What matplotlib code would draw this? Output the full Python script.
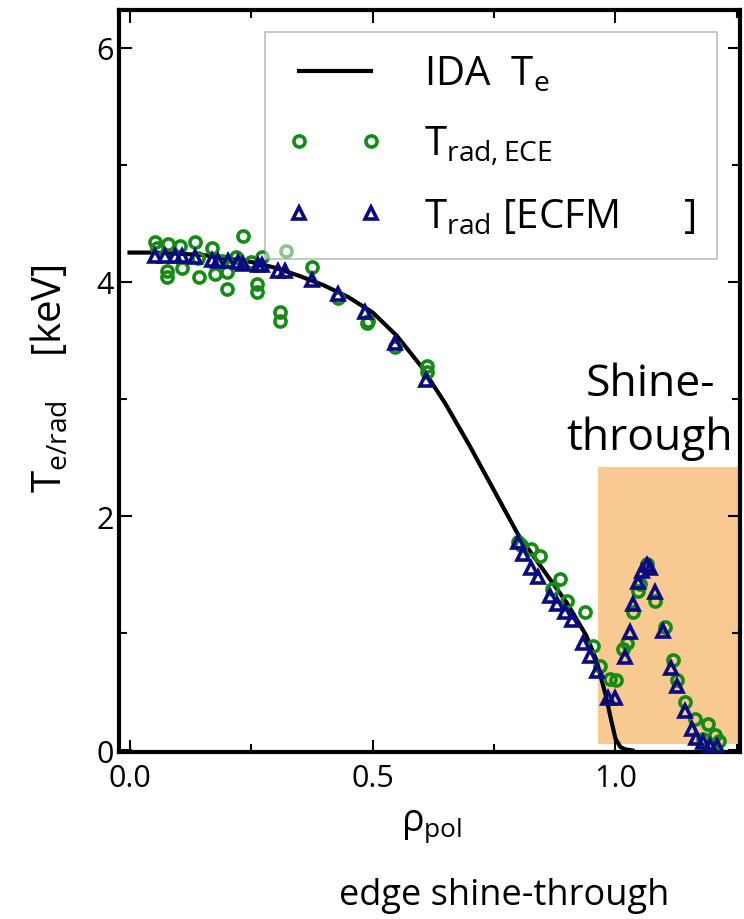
import matplotlib
matplotlib.use("Agg")
import matplotlib.pyplot as plt
from matplotlib.patches import Rectangle

plt.rcParams['font.family'] = ['Open Sans', 'DejaVu Sans']
plt.rcParams['mathtext.fontset'] = 'custom'
plt.rcParams['mathtext.rm'] = 'Open Sans'
plt.rcParams['mathtext.it'] = 'Open Sans:italic'
plt.rcParams['mathtext.bf'] = 'Open Sans:bold'
plt.rcParams['mathtext.default'] = 'regular'

# IDA electron temperature profile
rho_ida = [0.0, 0.05, 0.1, 0.15, 0.2, 0.25, 0.3, 0.35, 0.4, 0.45, 0.5, 0.55,
           0.6, 0.65, 0.7, 0.75, 0.8, 0.85, 0.9, 0.94, 0.96, 0.98, 0.99, 1.0,
           1.01, 1.02, 1.035]
te_ida = [4.25, 4.25, 4.24, 4.23, 4.20, 4.17, 4.12, 4.05, 3.97, 3.87, 3.74, 3.54,
          3.28, 2.96, 2.60, 2.22, 1.84, 1.55, 1.26, 0.98, 0.78, 0.47, 0.28, 0.10,
          0.03, 0.01, 0.0]

# measured ECE radiation temperature
rho_ece = [0.053, 0.056, 0.080, 0.104, 0.135, 0.169, 0.234, 0.077, 0.077, 0.107,
           0.142, 0.176, 0.200, 0.200, 0.220, 0.262, 0.262, 0.272, 0.310, 0.310,
           0.323, 0.140, 0.190, 0.250, 0.375, 0.430, 0.488, 0.490, 0.546, 0.612,
           0.612,
           0.800, 0.805, 0.827, 0.845, 0.886, 0.869, 0.900, 0.937, 0.954, 0.968,
           0.989, 1.002, 1.016, 1.023, 1.037, 1.047, 1.050, 1.064, 1.081, 1.102,
           1.119, 1.126, 1.143, 1.164, 1.180, 1.191, 1.200, 1.205, 1.212]
trad_ece = [4.34, 4.29, 4.32, 4.31, 4.34, 4.29, 4.39, 4.09, 4.04, 4.12,
            4.04, 4.07, 4.08, 3.94, 4.21, 3.98, 3.91, 4.21, 3.74, 3.67,
            4.26, 4.20, 4.18, 4.17, 4.13, 3.86, 3.65, 3.67, 3.44, 3.28,
            3.23,
            1.78, 1.75, 1.72, 1.66, 1.46, 1.38, 1.28, 1.18, 0.89, 0.72,
            0.61, 0.60, 0.87, 0.92, 1.18, 1.36, 1.42, 1.59, 1.28, 1.05,
            0.77, 0.60, 0.41, 0.27, 0.10, 0.23, 0.05, 0.13, 0.08]

# forward modelled radiation temperature (ECFM)
rho_ecfm = [0.053, 0.073, 0.093, 0.107, 0.135, 0.169, 0.183, 0.203, 0.224, 0.234,
            0.265, 0.272, 0.306, 0.320, 0.375, 0.430, 0.484, 0.546, 0.610,
            0.800, 0.810, 0.827, 0.841, 0.865, 0.879, 0.896, 0.910, 0.934, 0.948,
            0.961, 0.985, 0.999,
            1.020, 1.030, 1.037, 1.047, 1.054, 1.064, 1.071, 1.081, 1.098, 1.115,
            1.126, 1.143, 1.157, 1.166, 1.180, 1.194, 1.208]
trad_ecfm = [4.22, 4.22, 4.22, 4.22, 4.21, 4.19, 4.18, 4.18, 4.17, 4.15,
             4.14, 4.14, 4.09, 4.09, 4.02, 3.90, 3.74, 3.48, 3.16,
             1.78, 1.68, 1.56, 1.48, 1.32, 1.25, 1.18, 1.11, 0.92, 0.81,
             0.68, 0.45, 0.45,
             0.80, 1.01, 1.25, 1.44, 1.53, 1.58, 1.56, 1.35, 1.02, 0.70,
             0.55, 0.34, 0.18, 0.11, 0.07, 0.04, 0.04]

# shine-through region
shine_x = (0.965, 1.30)
shine_y = (0.055, 2.42)

fig = plt.figure(figsize=(7.44, 9.2), dpi=100)
ax = fig.add_axes([0.160, 0.1815, 0.8346, 0.8065])

ax.add_patch(Rectangle((shine_x[0], shine_y[0]), shine_x[1] - shine_x[0],
                       shine_y[1] - shine_y[0], facecolor='#f9c992',
                       edgecolor='none', zorder=0))

ax.plot(rho_ida, te_ida, color='black', lw=3, zorder=2, label=r'IDA  $T_e$')
ax.plot(rho_ece, trad_ece, ls='none', marker='o', ms=8, mew=2.6, mfc='none',
        mec='#148c14', zorder=3, label=r'$T_{rad,ECE}$')
ax.plot(rho_ecfm, trad_ecfm, ls='none', marker='^', ms=9, mew=2.6, mfc='none',
        mec='#0a0a82', zorder=4, label=r'$T_{rad}$ [ECFM      ]')

ax.set_xlim(-0.0216, 1.2562)
ax.set_ylim(-0.013, 6.32)
ax.set_xticks([0.0, 0.5, 1.0])
ax.set_xticklabels(['0.0', '0.5', '1.0'])
ax.set_xticks([0.25, 0.75, 1.25], minor=True)
ax.set_yticks([0, 2, 4, 6])
ax.set_yticks([1, 3, 5], minor=True)
ax.tick_params(which='both', direction='in', top=True, right=True, width=1.5,
               labelsize=22)
ax.tick_params(which='major', length=9)
ax.tick_params(which='minor', length=6)
ax.tick_params(axis='x', pad=8)
ax.tick_params(axis='y', pad=4)
for sp in ax.spines.values():
    sp.set_linewidth(3)

leg = ax.legend(loc='upper right', bbox_to_anchor=(717 / 744, 1 - 33 / 920),
                bbox_transform=fig.transFigure, borderaxespad=0, fontsize=29,
                numpoints=2, handlelength=2.4, handletextpad=1.0,
                labelspacing=0.72, borderpad=0.55, fancybox=False,
                framealpha=0.5, edgecolor='#888888')
leg.get_frame().set_linewidth(1.3)

ax.text(1.071, 2.90, 'Shine-\nthrough', ha='center', va='center',
        fontsize=32, linespacing=1.3)

fig.text(51 / 744, 1 - 379 / 920, r'$T_{e/rad}$    [keV]', rotation=90,
         ha='center', va='center', fontsize=29)
fig.text(432 / 744, 1 - 826 / 920, r'$\rho_{pol}$', ha='center', va='center',
         fontsize=27)
fig.text(504 / 744, 1 - 896 / 920, 'edge shine-through', ha='center',
         va='center', fontsize=26)

fig.savefig('out.png', dpi=100)
